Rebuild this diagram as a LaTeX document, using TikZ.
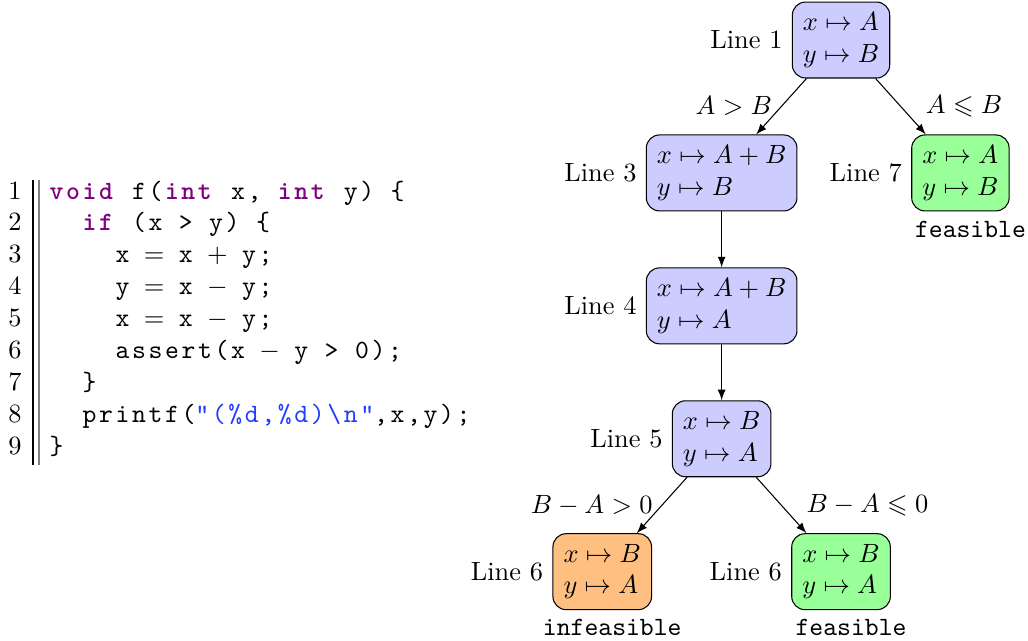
\documentclass[tikz,border=0pt]{standalone}
\usepackage{amsmath}
\usepackage{amssymb}
\usepackage{fontspec}
\usepackage{color}
\usepackage{tikz}
\newfontfamily\codefam[LetterSpace=10, BoldFont=lmmonolt10-bold.otf]{lmmono10-regular.otf}
\definecolor{kwpurple}{rgb}{0.5,0,0.5}
\definecolor{strblue}{RGB}{30,60,255}
\newlength{\cw}
\setlength{\cw}{6.25pt}
\newcommand{\codefont}{\codefam\fontsize{10pt}{12pt}\selectfont}
\newcommand{\kw}[2]{\makebox[#1\cw][l]{\bfseries\color{kwpurple}#2}}
\newcommand{\cc}[2]{\makebox[#1\cw][l]{#2}}
\newcommand{\strg}[1]{{\color{strblue}#1}}
\newcommand{\op}[1]{\makebox[\cw]{$#1$}}
\pgfmathsetmacro{\lvl}{1.77}
\pgfmathsetmacro{\sib}{1.59}
\pgfmathsetmacro{\colw}{0.2197}
\pgfmathsetmacro{\rowh}{0.4248}
\tikzset{
	state/.style= {
		draw, rounded corners=5pt,
		align=left, inner sep=4pt
	},
	symb/.style= {state, fill=blue!20},
	feas/.style= {state, fill=green!40,
		label={[xshift=3.8pt]below:\texttt{feasible}}},
	infeas/.style= {state, fill=orange!50,
		label={[xshift=3.8pt]below:\texttt{infeasible}}},
	codeln/.style= {anchor=base west, inner sep=0, font=\codefont},
	lnum/.style= {anchor=base east, inner sep=0}
}

\begin{document}
\begin{tikzpicture}
\useasboundingbox (0,0) rectangle (13.69,8.536);
% listing: line numbers and double rule
\foreach \i in {1,...,9}{%
	\node[lnum] (n\i) at (0.293, {5.886-(\i-1)*\rowh}) {\i};
}
\draw[line width=0.6pt] (0.439,6.139) -- (0.439,2.344);
\draw[line width=0.6pt, gray] (0.519,6.139) -- (0.519,2.344);

% listing: code lines
\node[codeln] (c1) at ({0.653+0*\colw}, {5.886-0*\rowh}) {\kw{4}{void} \cc{2}{f(}\kw{3}{int} x, \kw{3}{int} y) \{};
\node[codeln] (c2) at ({0.653+2*\colw}, {5.886-1*\rowh}) {\kw{2}{if} (x > y) \{};
\node[codeln] (c3) at ({0.653+4*\colw}, {5.886-2*\rowh}) {x \op{=} x \op{+} y;};
\node[codeln] (c4) at ({0.653+4*\colw}, {5.886-3*\rowh}) {y \op{=} x \op{-} y;};
\node[codeln] (c5) at ({0.653+4*\colw}, {5.886-4*\rowh}) {x \op{=} x \op{-} y;};
\node[codeln] (c6) at ({0.653+4*\colw}, {5.886-5*\rowh}) {assert(x \op{-} y > 0);};
\node[codeln] (c7) at ({0.653+2*\colw}, {5.886-6*\rowh}) {\}};
\node[codeln] (c8) at ({0.653+2*\colw}, {5.886-7*\rowh}) {printf(\strg{"(\%d,\%d)\textbackslash n"},x,y);};
\node[codeln] (c9) at ({0.653+0*\colw}, {5.886-8*\rowh}) {\}};

% symbolic execution tree
\node[symb, label=left:Line 1] (l1) at (11.20,8.003) {$x \mapsto A$\\$y \mapsto B$};
\node[symb, label=left:Line 3] (l3) at ({11.20-\sib},{8.003-\lvl}) {$x \mapsto A + B$\\$y \mapsto B$};
\node[feas, label=left:Line 7] (l7) at ({11.20+\sib},{8.003-\lvl}) {$x \mapsto A$\\$y \mapsto B$};
\node[symb, label=left:Line 4] (l4) at ({11.20-\sib},{8.003-2*\lvl}) {$x \mapsto A + B$\\$y \mapsto A$};
\node[symb, label=left:Line 5] (l5) at ({11.20-\sib},{8.003-3*\lvl}) {$x \mapsto B$\\$y \mapsto A$};
\node[infeas, label=left:Line 6] (l6a) at ({11.20-2*\sib},{8.003-4*\lvl}) {$x \mapsto B$\\$y \mapsto A$};
\node[feas, label=left:Line 6] (l6b) at ({11.20},{8.003-4*\lvl}) {$x \mapsto B$\\$y \mapsto A$};

\draw[-latex] (l1) -- node[left] {$A > B$} (l3);
\draw[-latex] (l1) -- node[right, xshift=6pt] {$A \leqslant B$} (l7);
\draw[-latex] (l3) -- (l4);
\draw[-latex] (l4) -- (l5);
\draw[-latex] (l5) -- node[left] {$B - A > 0$} (l6a);
\draw[-latex] (l5) -- node[right, xshift=6pt] {$B - A \leqslant 0$} (l6b);
\end{tikzpicture}
\end{document}
